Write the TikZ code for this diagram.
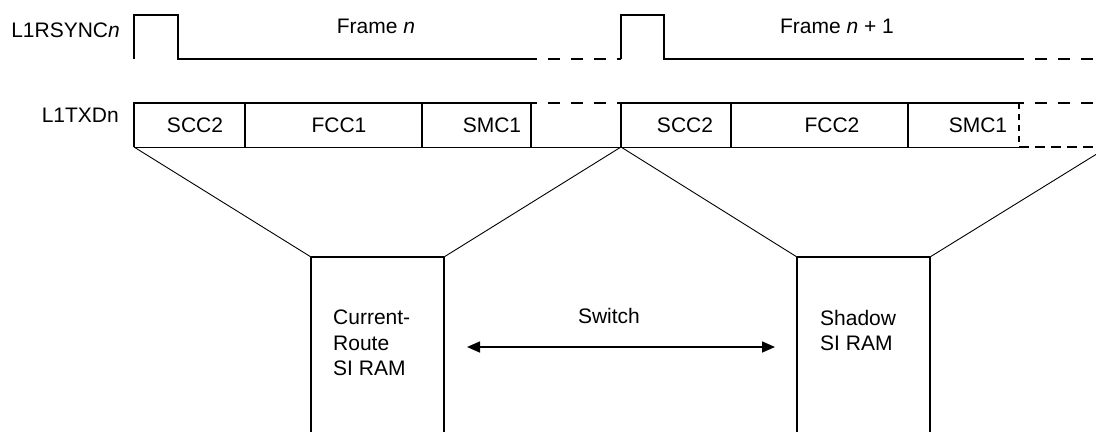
\documentclass[tikz,border=0pt]{standalone}
\usepackage{fontspec}
\setmainfont{Liberation Sans}
\usetikzlibrary{arrows.meta}

\begin{document}
\begin{tikzpicture}[x=1pt,y=-1pt,font=\fontsize{21}{25.5}\selectfont]
\tikzset{sig/.style={line width=1.6pt}}
\tikzset{gap/.style={line width=1.6pt,dash pattern=on 12pt off 11pt}}
\tikzset{fan/.style={line width=0.9pt}}
\tikzset{lbl/.style={inner sep=0pt}}
\tikzset{ram/.style={inner sep=0pt,align=left,anchor=north west}}
\useasboundingbox (0,0) rectangle (1096,432);
\clip (0,0) rectangle (1096,432);
% signal names
\node[lbl,anchor=east] at (120,30) (sync) {L1RSYNC\textit{n}};
\node[lbl,anchor=east] at (119,115) (txd) {L1TXDn};
% sync pulses
\draw[sig] (134,59) -- (134,15) -- (178,15) -- (178,59) -- (537,59);
\draw[gap] (548,59) -- (621,59);
\draw[sig] (621,59) -- (621,15) -- (664,15) -- (664,59) -- (1024,59);
\draw[gap] (1035,59) -- (1096,59);
\node[lbl] at (376,26) (frm1) {Frame \textit{n}};
\node[lbl] at (837,26) (frm2) {Frame \textit{n} + 1};
% time slots
\draw[sig] (134,147) -- (134,103) -- (537,103);
\draw[gap] (548,103) -- (621,103);
\draw[sig] (621,103) -- (1024,103);
\draw[gap] (1035,103) -- (1096,103);
\draw[line width=1pt] (134,147) -- (1019,147);
\draw[line width=1.4pt,dash pattern=on 10pt off 6pt] (1019,147) -- (1096,147);
\foreach \x in {245,422,531,621,731,908}
  \draw[sig] (\x,103) -- (\x,147);
\draw[line width=1.4pt,dash pattern=on 6pt off 5pt] (1019,103) -- (1019,147);
\node[lbl] at (195,125) (scc1) {SCC2};
\node[lbl] at (339,125) (fcc1) {FCC1};
\node[lbl] at (492,125) (smc1) {SMC1};
\node[lbl] at (685,125) (scc2) {SCC2};
\node[lbl] at (832,125) (fcc2) {FCC2};
\node[lbl] at (978,125) (smc2) {SMC1};
% SI RAMs
\coordinate (f1) at (134,147);
\coordinate (f2) at (621,147);
\coordinate (f3) at (1108,147);
\coordinate (curtl) at (311,257);
\coordinate (curtr) at (444,257);
\coordinate (shdtl) at (797,257);
\coordinate (shdtr) at (930,257);
\draw[sig] (311,432) -- (curtl);
\draw[sig] (444,432) -- (curtr);
\draw[line width=1.2pt] (curtl) -- (curtr);
\draw[sig] (797,432) -- (shdtl);
\draw[sig] (930,432) -- (shdtr);
\draw[line width=1.2pt] (shdtl) -- (shdtr);
\draw[fan] (f1) -- (curtl);
\draw[fan] (curtr) -- (f2);
\draw[fan] (f2) -- (shdtl);
\draw[fan] (shdtr) -- (f3);
\node[ram] at (333,310) (cur) {Current-\\Route\\SI RAM};
\node[ram] at (820,310) (shd) {Shadow\\SI RAM};
% switch
\node[lbl] at (609,316) (sw) {Switch};
\coordinate (swl) at (467,347);
\coordinate (swr) at (775,347);
\draw[sig,{Triangle[length=13pt,width=11pt]}-{Triangle[length=13pt,width=11pt]}] (swl) -- (swr);
\end{tikzpicture}
\end{document}
